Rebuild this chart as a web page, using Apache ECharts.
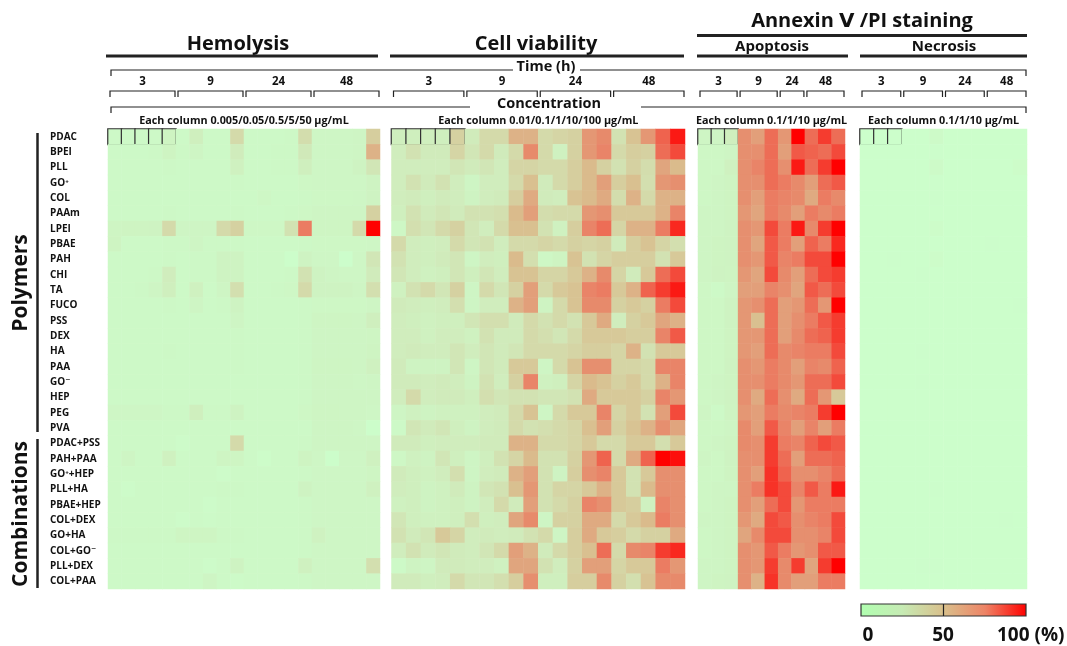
<!DOCTYPE html>
<html>
<head>
<meta charset="UTF-8">
<title>Hemolysis / Cell viability / Annexin V-PI heatmap</title>
<script src="https://cdn.jsdelivr.net/npm/echarts@6/dist/echarts.min.js"></script>
<style>
html,body{margin:0;padding:0;background:#fff;}
#main{width:1067px;height:646px;}
</style>
</head>
<body>
<div id="main"></div>
<script>
var rows = ['PDAC','BPEI','PLL','GO⁺','COL','PAAm','LPEI','PBAE','PAH','CHI','TA','FUCO','PSS','DEX','HA',
	'PAA','GO⁻','HEP','PEG','PVA',
	'PDAC+PSS','PAH+PAA','GO⁺+HEP','PLL+HA','PBAE+HEP','COL+DEX','GO+HA','COL+GO⁻','PLL+DEX','COL+PAA'];
var times = ['3','9','24','48'];
var scaleLabels = ['0','50','100 (%)'];

// hemolysis, 4 times x 5 conc (0.005/0.05/0.5/5/50)
var hemolysis = [
	[8,8,8,8,14, 8,20,8,8,35, 8,8,8,9,33, 11,11,11,12,42],
	[8,8,8,9,14, 9,12,8,8,24, 8,8,9,9,26, 11,11,11,12,55],
	[8,8,8,8,9, 7,7,7,8,17, 8,8,9,9,20, 11,11,11,15,28],
	[8,8,8,8,8, 8,8,8,8,9, 8,8,8,8,10, 11,11,11,11,15],
	[8,8,8,8,8, 8,8,8,8,8, 8,10,8,8,9, 10,10,10,11,15],
	[8,8,8,8,9, 8,8,8,8,9, 8,8,8,9,10, 12,12,12,12,40],
	[13,14,14,15,35, 12,12,12,35,40, 10,10,10,30,75, 13,13,13,35,100],
	[14,8,8,8,9, 9,12,9,9,9, 8,8,8,8,9, 10,10,10,10,11],
	[8,8,8,8,9, 8,9,9,15,15, 8,8,8,3,15, 11,11,2,11,28],
	[8,8,8,9,22, 8,9,9,15,15, 8,8,8,9,30, 15,12,11,11,25],
	[8,8,9,12,20, 8,18,8,12,32, 8,8,9,10,35, 15,15,15,12,32],
	[8,8,8,8,9, 8,12,8,9,15, 8,8,8,8,9, 10,10,10,10,12],
	[8,8,8,8,8, 8,8,8,8,12, 8,8,8,8,9, 13,13,13,12,20],
	[8,8,8,8,8, 8,8,8,8,9, 8,8,8,8,9, 12,12,12,12,13],
	[8,8,8,8,9, 8,8,8,8,9, 8,8,8,8,9, 12,12,12,12,14],
	[8,8,8,8,8, 8,8,8,8,9, 8,8,8,8,9, 13,13,13,12,18],
	[8,8,8,8,8, 8,8,8,8,8, 8,8,8,8,9, 12,12,12,11,12],
	[8,8,8,8,8, 8,8,8,8,8, 8,8,8,8,9, 12,12,12,12,12],
	[11,11,11,11,9, 9,20,9,9,15, 8,8,8,8,10, 13,13,12,12,11],
	[7,7,7,7,7, 7,7,7,7,7, 7,7,7,7,8, 12,12,12,11,3],
	[8,8,8,8,8, 5,8,8,8,35, 8,8,8,8,9, 12,12,12,12,12],
	[8,12,8,8,18, 8,8,8,13,13, 8,4,8,8,14, 11,3,11,11,18],
	[8,8,8,8,8, 8,8,8,5,8, 8,8,8,8,9, 11,11,11,11,13],
	[8,5,8,8,8, 8,8,8,9,9, 8,8,8,8,15, 11,11,11,11,18],
	[8,8,8,8,8, 8,8,5,8,8, 8,8,8,8,9, 11,11,11,11,11],
	[8,8,8,8,8, 5,8,6,8,8, 8,8,8,8,9, 11,11,11,11,11],
	[9,9,9,9,9, 13,13,13,9,9, 8,8,8,8,9, 16,11,11,11,11],
	[8,8,8,8,8, 8,8,8,8,8, 8,8,8,8,9, 11,11,11,11,11],
	[8,8,8,8,8, 8,8,5,8,15, 8,8,8,8,18, 11,11,11,11,32],
	[8,8,8,8,8, 8,8,12,8,6, 8,8,8,8,9, 11,11,11,11,11]
];

// cell viability (loss), 4 times x 5 conc (0.01/0.1/1/10/100)
var viability = [
	[20,20,20,20,40, 25,35,35,55,55, 35,38,40,65,70, 30,48,65,80,95],
	[22,30,25,25,38, 28,35,25,35,70, 35,18,40,65,72, 35,42,40,78,85],
	[22,22,22,22,28, 25,28,22,38,38, 35,35,42,52,40, 30,40,33,60,52],
	[22,30,25,30,22, 12,22,22,35,50, 25,35,42,52,62, 42,50,32,65,68],
	[22,25,20,25,22, 15,22,25,42,58, 25,22,48,52,58, 33,55,35,55,55],
	[20,30,25,28,25, 30,30,32,52,62, 33,35,35,65,68, 45,45,45,55,72],
	[10,32,28,35,40, 28,22,35,50,50, 30,18,42,72,78, 38,55,55,75,92],
	[35,22,20,22,35, 28,30,22,35,35, 38,35,40,38,40, 25,42,48,38,32],
	[30,22,20,25,28, 12,22,20,52,32, 10,14,48,30,38, 42,42,42,30,45],
	[28,22,18,20,28, 20,28,22,48,48, 38,38,45,55,70, 38,25,45,78,85],
	[18,30,35,28,40, 12,35,28,40,62, 35,45,48,72,75, 45,55,80,88,95],
	[25,22,20,22,32, 12,22,22,55,62, 15,35,48,70,70, 40,45,40,75,85],
	[22,20,18,20,20, 28,32,32,25,35, 30,35,30,45,58, 22,40,45,60,55],
	[22,22,18,22,22, 18,30,25,25,35, 32,28,35,45,45, 45,42,42,72,82],
	[22,25,22,22,28, 22,28,25,28,35, 35,35,38,42,42, 38,55,30,45,45],
	[25,15,15,15,28, 12,28,25,45,45, 12,35,48,68,68, 38,38,35,72,72],
	[25,25,22,25,22, 15,30,22,40,72, 18,20,38,52,48, 40,45,35,55,72],
	[22,35,22,25,25, 20,32,28,30,30, 28,28,30,58,45, 45,45,40,72,65],
	[12,18,15,18,18, 18,22,25,35,48, 12,35,45,45,72, 38,45,30,62,85],
	[8,28,25,28,20, 15,22,25,35,30, 32,35,38,50,62, 40,48,55,68,60],
	[25,25,20,22,22, 22,25,25,55,55, 35,35,38,45,35, 35,45,45,32,45],
	[10,18,15,28,20, 12,20,30,38,52, 30,30,40,65,80, 35,58,80,100,97],
	[25,20,18,22,32, 12,22,25,55,62, 30,15,42,68,72, 45,30,45,68,68],
	[22,20,15,18,25, 15,28,30,50,65, 30,38,38,45,55, 45,30,52,68,68],
	[18,20,15,18,20, 15,22,35,25,62, 30,35,40,72,68, 45,42,18,72,68],
	[28,20,18,18,20, 32,20,22,60,70, 12,40,40,58,58, 35,45,52,75,68],
	[30,25,28,45,38, 22,25,22,25,30, 35,12,42,58,45, 42,35,40,40,58],
	[22,30,25,28,25, 22,28,35,62,55, 25,35,42,50,78, 35,70,72,88,92],
	[8,15,12,25,25, 22,22,18,60,60, 30,22,40,62,62, 38,45,45,75,65],
	[25,25,20,22,35, 28,28,32,42,68, 20,20,42,42,70, 40,32,48,70,70]
];

// apoptosis, 3h/9h/24h/48h = 3/3/2/3 columns
var apoptosis = [
	[12,12,20, 68,62,78, 65,100, 78,88,78],
	[10,10,12, 68,68,78, 62,82, 80,78,85],
	[10,10,18, 68,72,78, 68,95, 78,88,100],
	[10,12,14, 68,68,78, 75,70, 62,78,82],
	[10,12,14, 68,62,75, 72,70, 58,75,70],
	[12,12,14, 65,60,75, 70,62, 75,70,75],
	[12,12,15, 68,65,85, 75,95, 70,88,100],
	[12,14,15, 68,60,82, 75,62, 80,75,92],
	[12,14,15, 68,65,82, 72,75, 85,85,100],
	[12,15,14, 65,60,85, 70,62, 78,85,88],
	[10,8,12, 62,62,72, 68,60, 82,78,85],
	[10,10,15, 65,68,78, 62,65, 78,65,100],
	[10,10,15, 65,50,78, 62,68, 75,82,88],
	[10,10,14, 65,65,78, 62,70, 78,80,88],
	[10,10,14, 65,62,78, 70,72, 75,75,85],
	[10,10,15, 68,65,75, 70,62, 72,70,80],
	[10,12,14, 68,68,75, 70,65, 78,78,85],
	[10,12,15, 68,58,78, 68,58, 78,65,45],
	[12,8,14, 65,62,75, 70,72, 75,88,100],
	[10,10,12, 70,62,82, 72,62, 72,62,75],
	[10,12,14, 70,68,88, 75,72, 80,85,82],
	[12,10,15, 68,68,88, 78,62, 78,78,80],
	[10,10,14, 68,62,90, 80,68, 68,72,78],
	[10,12,12, 68,75,90, 85,72, 82,75,95],
	[10,12,14, 68,62,78, 85,65, 75,75,75],
	[12,12,14, 65,58,85, 82,68, 72,75,85],
	[10,12,14, 60,70,85, 85,68, 68,72,85],
	[10,12,14, 68,65,82, 75,65, 68,82,82],
	[12,12,14, 68,65,88, 70,88, 60,88,100],
	[12,14,15, 68,55,90, 70,62, 62,75,75]
];

// necrosis, 4 times x 3 conc (0.1/1/10)
var necrosis = [
	[1,1,1, 1,1,6, 1,1,1, 1,1,1],
	[1,1,1, 1,1,2, 1,1,1, 1,1,1],
	[1,1,1, 1,1,6, 1,1,1, 1,1,4],
	[1,1,1, 1,1,2, 1,1,1, 1,1,1],
	[1,1,1, 1,1,2, 1,1,1, 1,1,1],
	[1,1,1, 1,1,1, 1,1,1, 1,1,1],
	[1,1,1, 1,1,4, 1,1,1, 1,1,1],
	[1,1,1, 1,1,1, 1,1,1, 2,1,1],
	[1,1,2, 1,1,4, 1,1,1, 1,1,1],
	[1,1,1, 1,2,1, 1,1,1, 1,1,1],
	[1,1,1, 1,1,1, 1,1,1, 1,1,1],
	[1,1,1, 1,1,1, 1,1,1, 1,1,2],
	[1,1,1, 1,1,1, 1,1,1, 1,1,1],
	[1,1,1, 1,1,1, 1,1,1, 1,1,1],
	[1,1,1, 1,2,1, 1,1,1, 1,1,1],
	[1,1,1, 1,1,1, 1,1,1, 1,1,1],
	[1,1,1, 1,2,1, 1,1,1, 1,1,1],
	[1,1,1, 1,1,1, 1,1,1, 1,1,1],
	[1,1,1, 1,1,1, 1,1,1, 1,1,1],
	[1,1,1, 1,1,1, 1,1,1, 1,1,1],
	[1,1,1, 1,1,1, 1,1,1, 1,1,1],
	[1,1,1, 1,1,1, 1,1,1, 1,1,1],
	[1,1,1, 1,1,1, 1,1,1, 1,1,1],
	[1,1,1, 1,1,2, 1,1,1, 1,1,1],
	[1,1,1, 1,1,1, 1,1,1, 1,1,1],
	[1,1,1, 1,1,1, 1,1,1, 1,2,1],
	[1,1,1, 1,1,1, 1,1,1, 1,1,1],
	[1,1,1, 1,1,1, 1,1,1, 1,1,1],
	[1,1,1, 1,2,2, 1,1,1, 1,1,1],
	[1,1,1, 1,1,1, 1,1,1, 1,1,1]
];

var FONT = '"Open Sans", "DejaVu Sans", sans-serif';
var TOP = 129, HEIGHT = 460;

var blocks = [
	{data: hemolysis, left: 108, width: 272, groups: [5,5,5,5], boxed: 5,
		conc: 'Each column 0.005/0.05/0.5/5/50 μg/mL'},
	{data: viability, left: 391.5, width: 293.5, groups: [5,5,5,5], boxed: 5,
		conc: 'Each column 0.01/0.1/1/10/100 μg/mL'},
	{data: apoptosis, left: 698, width: 147, groups: [3,3,2,3], boxed: 3,
		conc: 'Each column 0.1/1/10 μg/mL'},
	{data: necrosis, left: 860, width: 167, groups: [3,3,3,3], boxed: 3,
		conc: 'Each column 0.1/1/10 μg/mL'}
];

var chart = echarts.init(document.getElementById('main'));

var grids = [], xAxes = [], yAxes = [], series = [], graphics = [];

function txt(x, y, s, size, align, extra){
	var o = {type: 'text', x: x, y: y, silent: true,
		style: {text: s, fill: '#111', font: 'bold ' + size + 'px ' + FONT,
			textAlign: align || 'center', textVerticalAlign: 'middle'}};
	if(extra) for(var k in extra) o[k] = extra[k];
	return o;
}
function line(pts, w){
	return {type: 'polyline', silent: true, shape: {points: pts},
		style: {stroke: '#222', lineWidth: w || 1.3, fill: null}};
}

blocks.forEach(function(b, i){
	var n = b.data[0].length;
	grids.push({left: b.left, top: TOP, width: b.width, height: HEIGHT});
	var cats = [];
	for(var c = 0; c < n; c++) cats.push(String(c));
	xAxes.push({type: 'category', gridIndex: i, data: cats, show: false});
	yAxes.push({type: 'category', gridIndex: i, data: rows, inverse: true,
		axisLine: {show: false}, axisTick: {show: false}, splitLine: {show: false},
		axisLabel: {show: i === 0, align: 'left', margin: 58, color: '#111',
			fontFamily: FONT, fontWeight: 'bold', fontSize: 10, interval: 0}});
	var pts = [];
	b.data.forEach(function(row, r){
		row.forEach(function(v, c){
			var item = {value: [c, r, v]};
			if(r === 0 && c < b.boxed) item.itemStyle = {borderColor: '#333', borderWidth: 1.2};
			pts.push(item);
		});
	});
	series.push({type: 'heatmap', xAxisIndex: i, yAxisIndex: i, data: pts,
		emphasis: {disabled: true}, progressive: 0});

	// time brackets
	var cw = b.width / n, x0 = b.left, acc = 0;
	b.groups.forEach(function(g, k){
		var a = x0 + acc * cw + 2, e = x0 + (acc + g) * cw - 1;
		graphics.push(line([[a, 97], [a, 91], [e, 91], [e, 97]], 1.2));
		graphics.push(txt((a + e) / 2, 82, times[k], 11.5));
		acc += g;
	});
	graphics.push(txt(b.left + b.width / 2, 120.5, b.conc, 10.8));
});

// section titles and underlines
graphics.push(txt(238, 44, 'Hemolysis', 20));
graphics.push(txt(536, 44, 'Cell viability', 20));
graphics.push(txt(862, 21, 'Annexin Ⅴ /PI staining', 20));
graphics.push(txt(772, 47, 'Apoptosis', 15));
graphics.push(txt(944, 47, 'Necrosis', 15));
graphics.push(line([[106, 56], [378, 56]], 3));
graphics.push(line([[390, 56], [684, 56]], 3));
graphics.push(line([[697, 35.5], [1027, 35.5]], 3));
graphics.push(line([[697, 56], [848, 56]], 3));
graphics.push(line([[860, 56], [1027, 56]], 3));

// time / concentration rules
graphics.push(txt(546, 67, 'Time (h)', 14.5));
graphics.push(line([[111, 76], [111, 70], [513, 70]], 1.2));
graphics.push(line([[580, 70], [1026, 70], [1026, 76]], 1.2));
graphics.push(txt(549, 103.5, 'Concentration', 14.5));
graphics.push(line([[111, 113], [111, 107], [470, 107]], 1.2));
graphics.push(line([[641, 107], [1026, 107], [1026, 113]], 1.2));

// group labels on the left
graphics.push(line([[37.5, 133], [37.5, 432]], 2.5));
graphics.push(line([[37.5, 439], [37.5, 588]], 2.5));
graphics.push(txt(21, 283, 'Polymers', 21, 'center', {rotation: Math.PI / 2}));
graphics.push(txt(21, 514, 'Combinations', 21, 'center', {rotation: Math.PI / 2}));

// colour bar
graphics.push({type: 'rect', silent: true, shape: {x: 861, y: 604, width: 165, height: 12},
	style: {stroke: '#333', lineWidth: 1.2,
		fill: new echarts.graphic.LinearGradient(0, 0, 1, 0, [
			{offset: 0, color: '#b0ffb0'}, {offset: 0.25, color: '#c6ebb4'},
			{offset: 0.5, color: '#d9c08c'}, {offset: 0.75, color: '#ee8466'},
			{offset: 1, color: '#ff0000'}])}});
graphics.push(line([[943.5, 604], [943.5, 616]], 1.2));
graphics.push(txt(868, 636, scaleLabels[0], 19));
graphics.push(txt(943, 636, scaleLabels[1], 19));
graphics.push(txt(997, 636, scaleLabels[2], 19, 'left'));

var options = {
	backgroundColor: '#fff',
	animation: false,
	grid: grids,
	xAxis: xAxes,
	yAxis: yAxes,
	visualMap: {
		type: 'continuous', show: false, min: 0, max: 100,
		seriesIndex: [0, 1, 2, 3],
		inRange: {color: ['#ccffcc', '#d0ebbb', '#d9c090', '#eb7c62', '#ff0000']}
	},
	series: series,
	graphic: graphics
};
chart.setOption(options);
</script>
</body>
</html>
